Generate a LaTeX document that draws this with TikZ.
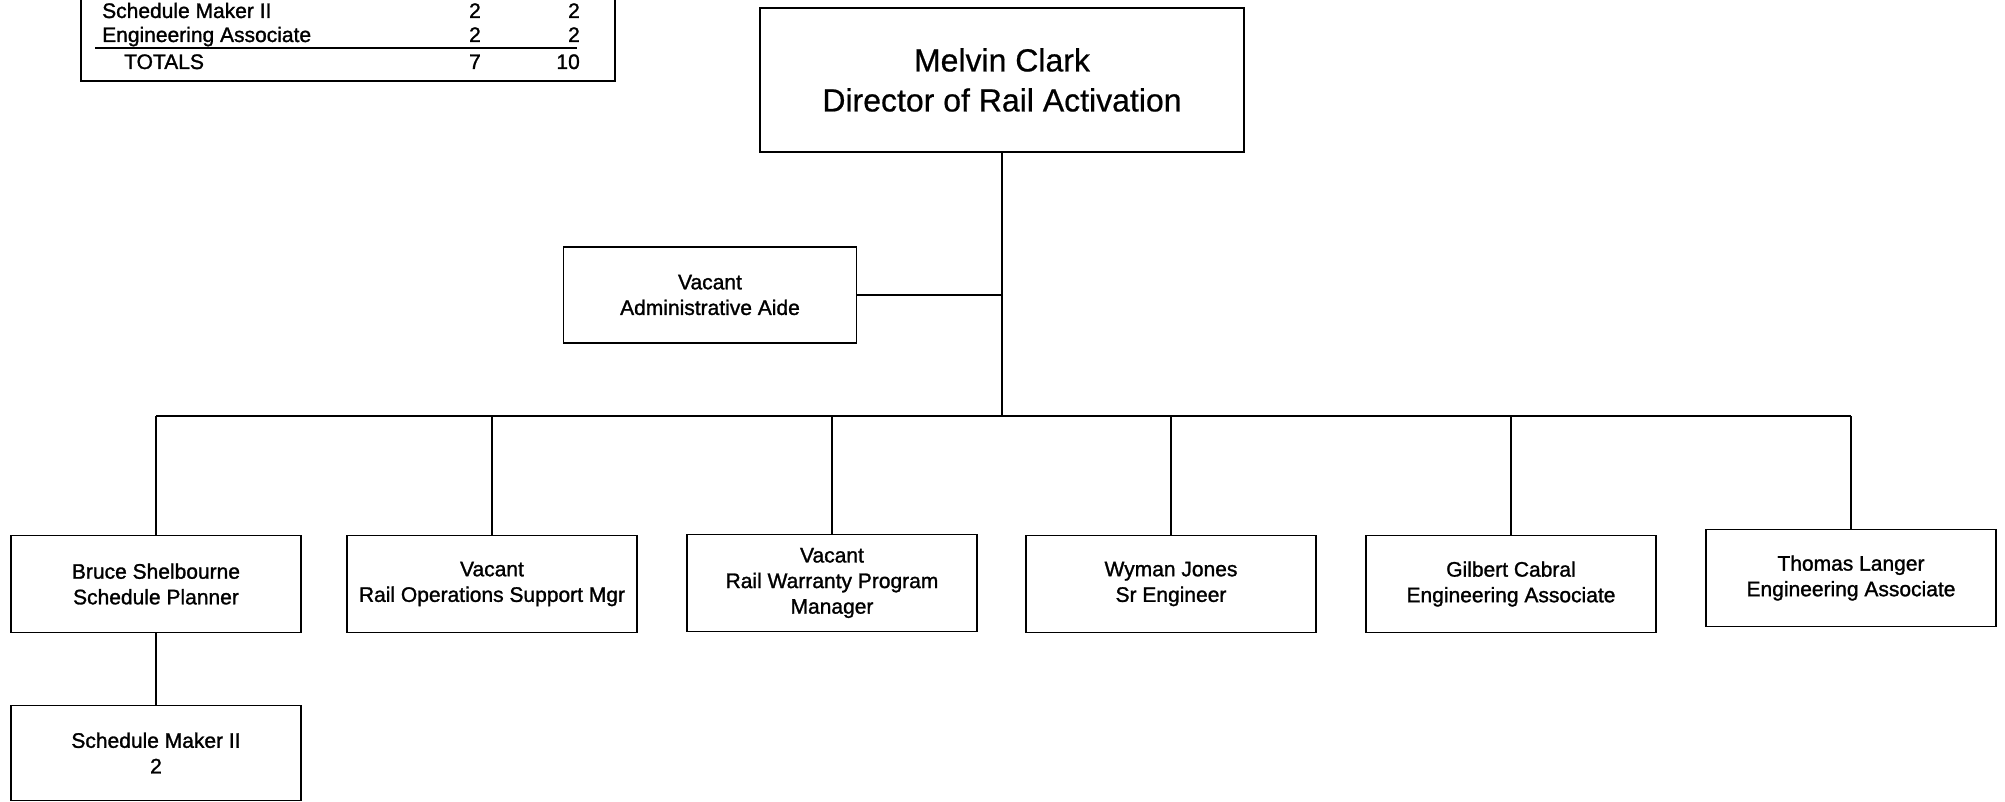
\documentclass[tikz,border=0pt]{standalone}
\usepackage{fontspec}
\setmainfont{Liberation Sans}
\newfontfamily\heavyfont{Liberation Sans}[FakeBold=1.3]
\newfontfamily\titlefont{Liberation Sans}[FakeBold=0.6]
\usepackage{tikz}
\usetikzlibrary{positioning,calc}

\begin{document}
\begin{tikzpicture}[x=1pt,y=-1pt,
    orgbox/.style={draw,line width=1.6pt,minimum width=290pt,minimum height=97pt,
      align=center,inner sep=3pt,font=\heavyfont\fontsize{21}{25.6}\selectfont},
    tabtext/.style={inner sep=0pt,font=\heavyfont\fontsize{21}{23}\selectfont},
    link/.style={line width=1.3pt}]
  \useasboundingbox (0,0) rectangle (2005,802);

  \draw[line width=1.6pt] (81,-20) rectangle (615,81);
  \node[tabtext,anchor=base west] (tabmaker) at (102,18) {Schedule Maker II};
  \node[tabtext,anchor=base east] (tabmakera) at (481,18) {2};
  \node[tabtext,anchor=base east] (tabmakerb) at (580,18) {2};
  \node[tabtext,anchor=base west] (tabassoc) at (102,42) {Engineering Associate};
  \node[tabtext,anchor=base east] (tabassoca) at (481,42) {2};
  \node[tabtext,anchor=base east] (tabassocb) at (580,42) {2};
  \node[tabtext,anchor=base west] (tabtotal) at (124,69) {TOTALS};
  \node[tabtext,anchor=base east] (tabtotala) at (481,69) {7};
  \node[tabtext,anchor=base east] (tabtotalb) at (580,69) {10};
  \draw[line width=1.3pt] (95,48) -- (577,48);

  \node[orgbox,minimum width=484pt,minimum height=144pt,
        font=\titlefont\fontsize{32}{40}\selectfont] (dir) at (1002,80)
    {Melvin Clark\\Director of Rail Activation};
  \node[orgbox,minimum width=293pt,minimum height=96pt] (aide) at (710,295)
    {Vacant\\Administrative Aide};

  \node[orgbox] (bruce) at (156,584) {Bruce Shelbourne\\Schedule Planner};
  \node[orgbox] (opsmgr) at (492,584) {Vacant\\Rail Operations Support Mgr};
  \node[orgbox] (warranty) at (832,583) {Vacant\\Rail Warranty Program\\Manager};
  \node[orgbox] (wyman) at (1171,584) {Wyman Jones\\Sr Engineer};
  \node[orgbox] (gilbert) at (1511,584) {Gilbert Cabral\\Engineering Associate};
  \node[orgbox] (thomas) at (1851,578) {Thomas Langer\\Engineering Associate};
  \node[orgbox,minimum height=95pt] (maker) at (156,753) {Schedule Maker II\\2};

  \coordinate (hub) at (1002,416);
  \draw[link] (dir.south) -- (hub);
  \draw[link] (aide.east) -- (aide.east -| dir.south);
  \draw[link] (hub -| bruce.north) -- (hub -| thomas.north);
  \foreach \n in {bruce,opsmgr,warranty,wyman,gilbert,thomas}
    \draw[link] (hub -| \n.north) -- (\n.north);
  \draw[link] (bruce) -- (maker);
\end{tikzpicture}
\end{document}
